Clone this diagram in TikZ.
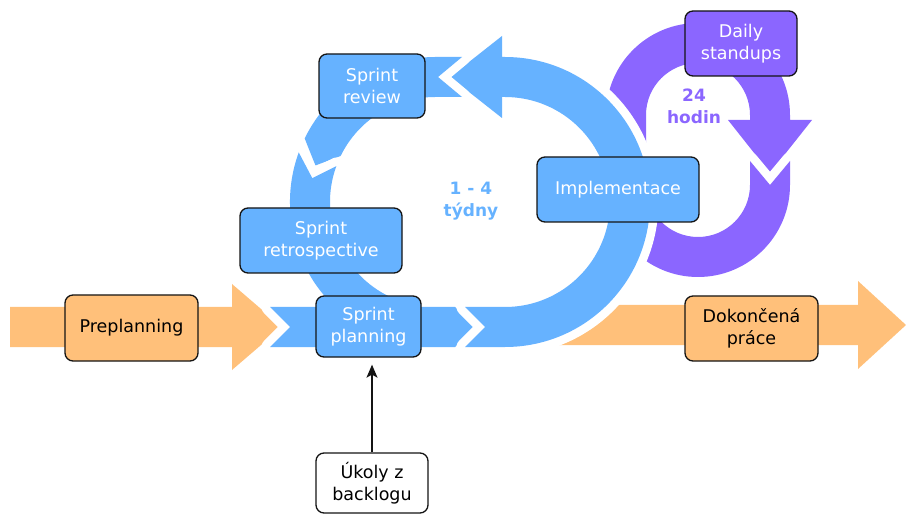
\documentclass[tikz,border=0pt]{standalone}
\usepackage{fontspec}
\setmainfont{DejaVu Sans}
\usetikzlibrary{arrows.meta,calc}
\definecolor{blueC}{HTML}{66B2FF}
\definecolor{purpC}{HTML}{8B66FF}
\definecolor{orgC}{HTML}{FFC07A}
\definecolor{edgeC}{HTML}{141414}
\begin{document}
\begin{tikzpicture}[x=1pt,y=1pt,
  halo/.style={preaction={draw=white,line width=17pt,line join=round}},
  box/.style={draw=edgeC,line width=1.3pt,rounded corners=8pt,inner sep=0pt,align=center,
    font=\fontsize{17.5}{22}\selectfont},
  bluebox/.style={box,fill=blueC,text=white},
  purpbox/.style={box,fill=purpC,text=white},
  orgbox/.style={box,fill=orgC,text=black},
  whitebox/.style={box,fill=white,text=black},
  looplabel/.style={align=center,font=\fontsize{17}{22}\selectfont\bfseries}
]
\useasboundingbox (0,0) rectangle (906,515);
\coordinate (cL) at (435,313);
\coordinate (cR) at (505,313);

% orange arrows
\fill[orgC] (10,168) -- (232,168) -- (232,145) -- (282,188) -- (232,231) -- (232,208) -- (10,208) -- cycle;
\fill[orgC] (540,170) -- (858,170) -- (858,146) -- (906,190) -- (858,234) -- (858,210) -- (540,210) -- cycle;

% purple loop
\fill[purpC] (606,330) -- (606,400) arc[start angle=180,end angle=0,radius=92pt]
  -- (790,395) -- (812,395) -- (770,342) -- (728,395) -- (750,395) -- (750,400)
  arc[start angle=0,end angle=180,radius=52pt] -- (646,330) -- cycle;
\fill[purpC,halo] (790,354) -- (790,330) arc[start angle=0,end angle=-180,radius=92pt]
  -- (646,330) arc[start angle=180,end angle=360,radius=52pt]
  -- (750,354) -- (770,330) -- cycle;

% blue loop
\fill[blueC,halo] (270,208) -- (455,208) -- (475,188) -- (455,168) -- (270,168) -- (290,188) -- cycle;
\fill[blueC,halo] (465,208) -- (485,188) -- (465,168) -- (505,168)
  arc[start angle=-90,end angle=90,radius=145pt] -- (502,458) -- (502,479) -- (450,438)
  -- (502,397) -- (502,418) -- (505,418) arc[start angle=90,end angle=-90,radius=105pt] -- cycle;
\fill[blueC,halo] (462,458) -- (438,438) -- (462,418) -- (435,418)
  arc[start angle=90,end angle=154,radius=105pt] -- ($(cL)+(163:125pt)$)
  -- ($(cL)+(154:145pt)$) arc[start angle=154,end angle=90,radius=145pt] -- cycle;
\fill[blueC,halo] ($(cL)+(160:145pt)$) -- ($(cL)+(169:125pt)$) -- ($(cL)+(160:105pt)$)
  arc[start angle=160,end angle=245,radius=105pt] -- ($(cL)+(245:145pt)$)
  arc[start angle=245,end angle=160,radius=145pt] -- cycle;

% boxes
\node[orgbox,minimum width=133pt,minimum height=66pt] (pre) at (131.5,187) {Preplanning};
\node[bluebox,minimum width=105pt,minimum height=61pt] (planning) at (368.5,188.5) {Sprint\\planning};
\node[bluebox,minimum width=162pt,minimum height=65pt] (retro) at (321,274.5) {Sprint\\retrospective};
\node[bluebox,minimum width=106pt,minimum height=64pt] (review) at (372,429) {Sprint\\review};
\node[bluebox,minimum width=162pt,minimum height=65pt] (impl) at (618,325.5) {Implementace};
\node[purpbox,minimum width=112pt,minimum height=65pt] (daily) at (741,471.5) {Daily\\standups};
\node[orgbox,minimum width=133pt,minimum height=65pt] (done) at (751.5,186.5) {Dokončená\\práce};
\node[whitebox,minimum width=112pt,minimum height=60pt] (backlog) at (372,32) {Úkoly z\\backlogu};

\draw[edgeC,line width=1.4pt,-{Stealth[length=13pt,width=11pt,inset=3pt]},shorten >=7pt]
  (backlog.north) -- (backlog.north |- planning.south);

% loop labels
\node[looplabel,text=blueC] (weeks) at (471,314) {1 - 4\\týdny};
\node[looplabel,text=purpC] (hours) at (694,409) {24\\hodin};
\end{tikzpicture}
\end{document}
